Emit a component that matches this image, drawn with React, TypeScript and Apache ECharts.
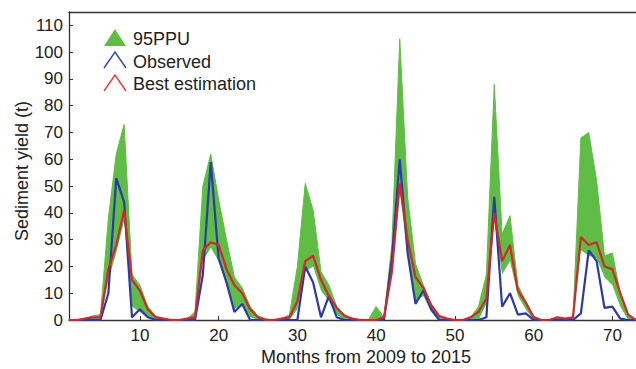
import React, { useEffect, useRef } from "react";
import * as echarts from "echarts";

const months: string[] = Array.from({ length: 73 }, (_, i) => String(i + 1));

const observed: number[] = [
  0, 0, 0, 0, 0, 10, 53, 44, 1, 4, 1, 0, 0, 0, 0, 0, 0, 17, 59, 23, 14, 3, 6, 0, 0, 0,
  0, 0, 0, 0, 20, 14, 1, 9, 1, 0, 0, 0, 0, 0, 0, 23, 60, 25, 6, 11, 4, 0, 0, 0, 0, 0,
  0, 1, 46, 5, 10, 2, 2.5, 0, 0, 0, 0, 0, 0, 2.5, 26, 22, 4.5, 5, 0.5, 0, 0,
];

const bestEstimation: number[] = [
  0, 0, 0.5, 1, 1, 19, 28, 41, 15, 11, 4, 1, 0.5, 0, 0, 0.5, 1, 26, 29, 28, 19, 13, 10, 4, 1, 0,
  0, 0.5, 1, 7, 22, 24, 15, 9, 4.5, 1.5, 0.5, 0, 0, 0, 1, 18, 51, 30, 16, 12, 5.5, 1.5, 0.5, 0, 0, 1,
  3, 8, 40, 22, 28, 11, 6.5, 1, 0, 0, 1, 0.5, 1, 31, 28, 29, 20, 19, 10, 2, 0,
];

const ppuUpper: number[] = [
  0, 0, 0.5, 1.5, 2, 38, 62, 73, 17, 13, 5, 1.5, 0.5, 0, 0, 0.5, 3, 50, 62, 45, 30, 16, 12, 5, 1.5, 0.5,
  0, 0.5, 2, 20, 51, 41, 18, 13, 5, 2, 0.5, 0, 0, 5, 1, 28, 105, 46, 21, 13, 6, 1.5, 0.5, 0, 0, 1,
  5, 17, 88, 32, 39, 13, 7, 1.5, 0, 0, 1, 0.5, 1, 68, 70, 52, 24, 25, 10, 2, 0,
];

const ppuLower: number[] = [
  0, 0, 0, 0, 0, 15, 25, 37, 5, 3, 1, 0, 0, 0, 0, 0, 0, 22, 27, 22, 13, 4, 6, 1, 0, 0,
  0, 0, 0, 4, 18, 20, 11, 7, 2, 0, 0, 0, 0, 0, 0, 17, 48, 24, 7, 9, 3, 0, 0, 0, 0, 0,
  0, 6, 37, 17, 22, 9, 4, 0, 0, 0, 0, 0, 0, 26, 24, 23, 16, 13, 5, 0, 0,
];

const xTickLabels: string[] = ["10", "20", "30", "40", "50", "60", "70"];
const yTicks: number[] = [0, 10, 20, 30, 40, 50, 60, 70, 80, 90, 100, 110];

const GREEN = "#5fbd45";
const BLUE = "#2a3aa8";
const RED = "#d2282c";
const AXIS = "#333333";
const TEXT = "#222222";
const FONT = "Liberation Sans, Arial, Helvetica, sans-serif";

export default function App() {
  const ref = useRef<HTMLDivElement>(null);

  useEffect(() => {
    if (!ref.current) return;
    const chart = echarts.init(ref.current, undefined, { renderer: "svg" });

    const bandDiff = ppuUpper.map((u, i) => u - ppuLower[i]);
    const showTick = (idx: number) => xTickLabels.indexOf(months[idx]) >= 0;

    const option: any = {
      animation: false,
      backgroundColor: "#ffffff",
      grid: { left: 69, right: 0, top: 12, bottom: 49 },
      xAxis: [
        {
          type: "category",
          data: months,
          boundaryGap: false,
          axisLine: { show: true, lineStyle: { color: AXIS, width: 1.3 } },
          axisTick: {
            show: true,
            inside: true,
            length: 4,
            interval: showTick,
            lineStyle: { color: AXIS },
          },
          axisLabel: {
            interval: showTick,
            color: TEXT,
            fontSize: 17,
            fontFamily: FONT,
            margin: 7,
          },
          splitLine: { show: false },
        },
        {
          type: "category",
          data: months,
          boundaryGap: false,
          position: "top",
          axisLine: { show: true, lineStyle: { color: AXIS, width: 1.3 } },
          axisTick: { show: false },
          axisLabel: { show: false },
          splitLine: { show: false },
        },
      ],
      yAxis: {
        type: "value",
        min: 0,
        max: 115,
        axisLine: { show: true, lineStyle: { color: AXIS, width: 1.3 } },
        axisTick: {
          show: true,
          inside: true,
          length: 4,
          customValues: yTicks,
          lineStyle: { color: AXIS },
        },
        axisLabel: {
          customValues: yTicks,
          color: TEXT,
          fontSize: 17,
          fontFamily: FONT,
          margin: 6,
        },
        splitLine: { show: false },
      },
      series: [
        {
          name: "lower",
          type: "line",
          data: ppuLower,
          stack: "ppu",
          symbol: "none",
          silent: true,
          lineStyle: { opacity: 0, width: 0 },
        },
        {
          name: "95PPU",
          type: "line",
          data: bandDiff,
          stack: "ppu",
          symbol: "none",
          silent: true,
          lineStyle: { color: GREEN, width: 1 },
          areaStyle: { color: GREEN, opacity: 1 },
        },
        {
          name: "Observed",
          type: "line",
          data: observed,
          symbol: "none",
          lineStyle: { color: BLUE, width: 2.2 },
        },
        {
          name: "Best estimation",
          type: "line",
          data: bestEstimation,
          symbol: "none",
          lineStyle: { color: RED, width: 2.2 },
        },
      ],
      graphic: [
        {
          type: "polygon",
          shape: { points: [[104, 46], [115, 29], [126, 46]] },
          style: { fill: GREEN },
        },
        {
          type: "polyline",
          shape: { points: [[104, 68], [115, 52], [126, 68]] },
          style: { stroke: "#2f4bc0", lineWidth: 1.5, fill: "none" },
        },
        {
          type: "polyline",
          shape: { points: [[104, 91], [115, 75], [126, 91]] },
          style: { stroke: "#f03a3a", lineWidth: 1.5, fill: "none" },
        },
        {
          type: "text",
          x: 133,
          y: 39,
          style: { text: "95PPU", fill: TEXT, fontSize: 18, fontFamily: FONT, verticalAlign: "middle" },
        },
        {
          type: "text",
          x: 133,
          y: 62,
          style: { text: "Observed", fill: TEXT, fontSize: 18, fontFamily: FONT, verticalAlign: "middle" },
        },
        {
          type: "text",
          x: 133,
          y: 84,
          style: { text: "Best estimation", fill: TEXT, fontSize: 18, fontFamily: FONT, verticalAlign: "middle" },
        },
        {
          type: "text",
          x: 366,
          y: 357,
          style: {
            text: "Months from 2009 to 2015",
            fill: TEXT,
            fontSize: 18,
            fontFamily: FONT,
            align: "center",
            verticalAlign: "middle",
          },
        },
        {
          type: "text",
          x: 22,
          y: 171,
          rotation: Math.PI / 2,
          style: {
            text: "Sediment yield (t)",
            fill: TEXT,
            fontSize: 18,
            fontFamily: FONT,
            align: "center",
            verticalAlign: "middle",
          },
        },
      ],
    };

    chart.setOption(option);
    return () => chart.dispose();
  }, []);

  return <div ref={ref} style={{ width: 636, height: 369, position: "absolute", left: 0, top: 0 }} />;
}
